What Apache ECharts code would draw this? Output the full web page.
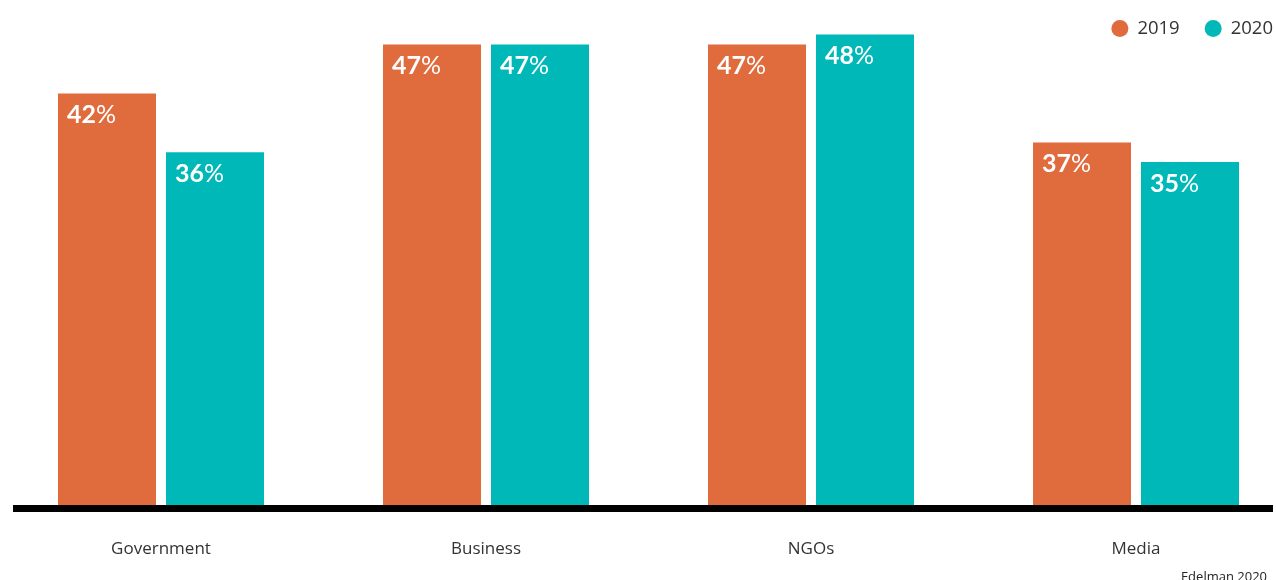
<!DOCTYPE html>
<html>
<head>
<meta charset="utf-8">
<script src="https://cdn.jsdelivr.net/npm/echarts@6/dist/echarts.min.js"></script>
<style>
  html, body { margin: 0; padding: 0; background: #fff; }
  #chart { width: 1276px; height: 580px; }
</style>
</head>
<body>
<div id="chart"></div>
<script>
// Trust by institution, 2019 vs 2020
const categories = ['Government', 'Business', 'NGOs', 'Media'];
const seriesNames = ['2019', '2020'];
const values2019 = [42, 47, 47, 37];
const values2020 = [36, 47, 48, 35];
const sourceNote = 'Edelman 2020';

const COLORS = ['#E06B3C', '#00B8B8'];
const LABEL_FONT = 'Lato, "Open Sans", sans-serif';
const TEXT_FONT = '"Open Sans", Lato, sans-serif';

const valueLabel = {
  show: true,
  position: 'insideTopLeft',
  distance: 0,
  offset: [9, 9],
  formatter: p => '{n|' + p.value + '}{p|%}',
  rich: {
    n: { color: '#fff', fontFamily: LABEL_FONT, fontWeight: 'bold', fontSize: 25 },
    p: { color: '#fff', fontFamily: LABEL_FONT, fontWeight: 'normal', fontSize: 25 }
  }
};

const chart = echarts.init(document.getElementById('chart'), null, { renderer: 'canvas' });
chart.setOption({
  animation: false,
  backgroundColor: '#fff',
  color: COLORS,
  legend: {
    data: seriesNames,
    right: 0,
    top: 14,
    padding: [5, 3, 5, 5],
    icon: 'circle',
    itemWidth: 17,
    itemHeight: 17,
    itemGap: 25,
    textStyle: { fontFamily: TEXT_FONT, fontSize: 18.5, color: '#333', padding: [0, 0, 0, 4] }
  },
  grid: [
    // the category bands run slightly past the canvas edges
    { left: -1.5, width: 1300, top: 15, bottom: 75, outerBoundsMode: 'none' },
    { left: 13, width: 1260, top: 0, bottom: 71.5, outerBoundsMode: 'none' }
  ],
  xAxis: [
    {
      type: 'category',
      gridIndex: 0,
      data: categories,
      axisLine: { show: false },
      axisTick: { show: false },
      axisLabel: { margin: 36, fontFamily: TEXT_FONT, fontSize: 17, color: '#333' }
    },
    {
      type: 'value',
      gridIndex: 1,
      min: 0,
      max: 1,
      axisLine: { show: true, lineStyle: { color: '#000', width: 7, cap: 'butt' } },
      axisTick: { show: false },
      axisLabel: { show: false },
      splitLine: { show: false }
    }
  ],
  yAxis: [
    { type: 'value', gridIndex: 0, min: 0, max: 50, show: false },
    { type: 'value', gridIndex: 1, min: 0, max: 1, show: false }
  ],
  graphic: [{
    type: 'text',
    right: 9,
    top: 571,
    style: { text: sourceNote, fontFamily: TEXT_FONT, fontSize: 13, fill: '#222' }
  }],
  series: [
    {
      name: seriesNames[0],
      type: 'bar',
      data: values2019,
      barWidth: 98,
      barGap: '10.2%',
      label: valueLabel
    },
    {
      name: seriesNames[1],
      type: 'bar',
      data: values2020,
      barWidth: 98,
      barGap: '10.2%',
      label: valueLabel
    }
  ]
});
</script>
</body>
</html>
